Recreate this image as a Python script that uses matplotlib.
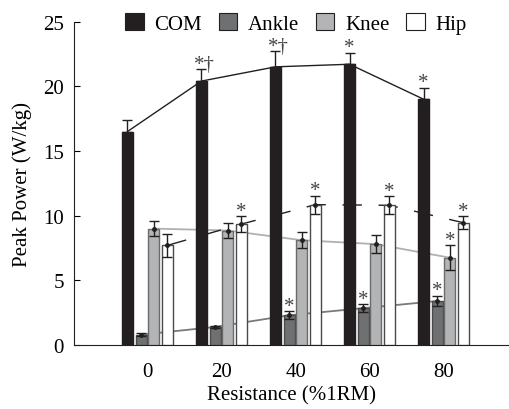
import numpy as np
import matplotlib.pyplot as plt
from matplotlib.patches import Patch

# ==========================================
# Data
# ==========================================

resistance = [0, 20, 40, 60, 80]
tick_labels = ["0", "20", "40", "60", "80"]

com_mean = [16.5, 20.4, 21.5, 21.7, 19.0]
com_sd = [0.9, 0.9, 1.2, 0.9, 0.9]

ankle_mean = [0.8, 1.4, 2.3, 2.85, 3.4]
ankle_sd = [0.1, 0.1, 0.3, 0.3, 0.4]

knee_mean = [9.0, 8.85, 8.1, 7.8, 6.75]
knee_sd = [0.6, 0.6, 0.6, 0.7, 0.95]

hip_mean = [7.7, 9.35, 10.85, 10.8, 9.45]
hip_sd = [0.9, 0.6, 0.7, 0.7, 0.5]

com_marks = ["", "*\u2020", "*\u2020", "*", "*"]
ankle_marks = ["", "", "*", "*", "*"]
knee_marks = ["", "", "", "", "*"]
hip_marks = ["", "*", "*", "*", "*"]

# ==========================================
# Settings
# ==========================================

plt.rcParams["font.family"] = ["Liberation Serif", "DejaVu Serif"]
plt.rcParams["font.size"] = 15

BAR_WIDTH = 2.9
OFFSETS = [-5.5, -1.8, 1.6, 5.3]

series = [
    ("COM", com_mean, com_sd, com_marks, "#231f20", "#231f20"),
    ("Ankle", ankle_mean, ankle_sd, ankle_marks, "#6f7072", "#4a4a4a"),
    ("Knee", knee_mean, knee_sd, knee_marks, "#b3b4b6", "#6a6a6a"),
    ("Hip", hip_mean, hip_sd, hip_marks, "#ffffff", "#4a4a4a"),
]

line_styles = {
    "COM": dict(color="#231f20", lw=1.0, ls="-"),
    "Ankle": dict(color="#7a7a7a", lw=1.3, ls="-"),
    "Knee": dict(color="#b0b0b0", lw=1.3, ls="-"),
    "Hip": dict(color="#231f20", lw=1.0, ls=(0, (14, 12))),
}

# ==========================================
# Plot
# ==========================================

fig = plt.figure(figsize=(5.09, 4.10), dpi=100)
ax = fig.add_axes([0.145, 0.156, 0.855, 0.789])

x = np.array(resistance, dtype=float)

for (name, mean, sd, marks, face, edge), off in zip(series, OFFSETS):
    xs = x + off
    ax.bar(xs, mean, width=BAR_WIDTH, color=face, edgecolor=edge,
           linewidth=1.0, zorder=3)
    ax.plot(xs, mean, zorder=2, **line_styles[name])
    if name == "COM":
        ax.errorbar(xs, mean, yerr=[np.zeros(len(sd)), sd], fmt="none",
                    ecolor="#231f20", elinewidth=1.0, capsize=3.5, capthick=1.0,
                    zorder=4)
    else:
        ax.errorbar(xs, mean, yerr=sd, fmt="o", ms=2.5, color="#231f20",
                    ecolor="#231f20", elinewidth=1.0, capsize=3.5, capthick=1.0,
                    zorder=4)
    for xi, m, s, mk in zip(xs, mean, sd, marks):
        if mk:
            ax.text(xi + (0.9 if len(mk) > 1 else 0), m + s + 0.05, mk,
                    ha="center", va="baseline", fontsize=15, color="#444444",
                    zorder=5)

ax.set_xlim(-20, 97.6)
ax.set_ylim(0, 25)
ax.set_xticks(resistance)
ax.set_xticklabels(tick_labels)
ax.set_yticks([0, 5, 10, 15, 20, 25])
ax.tick_params(axis="x", length=0, pad=12)
ax.tick_params(axis="y", direction="in", length=4, pad=7)

for side in ["top", "right"]:
    ax.spines[side].set_visible(False)
ax.spines["left"].set_color("#231f20")
ax.spines["bottom"].set_color("#231f20")

ax.set_xlabel("Resistance (%1RM)", labelpad=3)
ax.set_ylabel("Peak Power (W/kg)", labelpad=8)

handles = [Patch(facecolor=s[4], edgecolor="#231f20", linewidth=0.8)
           for s in series]
ax.legend(handles, [s[0] for s in series], loc="center",
          bbox_to_anchor=(0.51, 0.995), ncol=4, frameon=False,
          handlelength=0.9, handleheight=0.9, handletextpad=0.5,
          columnspacing=0.8, fontsize=15, borderaxespad=0, borderpad=0)

fig.savefig("out.png", dpi=100)
